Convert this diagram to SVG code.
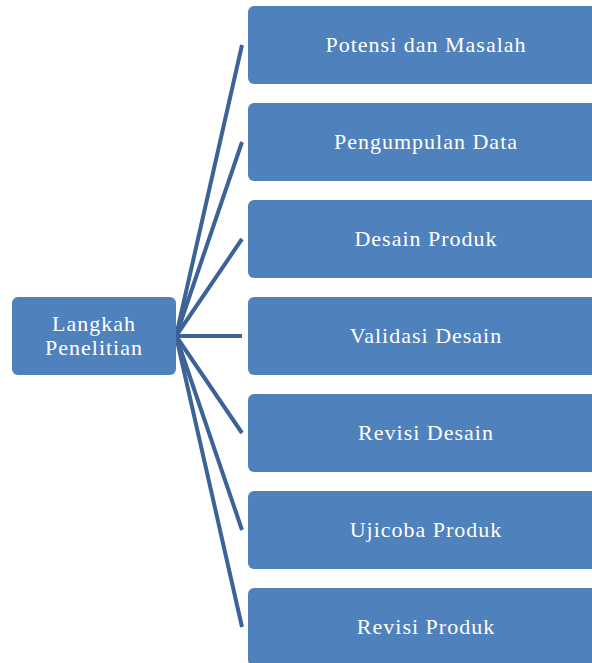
<svg xmlns="http://www.w3.org/2000/svg" width="592" height="663" viewBox="0 0 592 663">
<style>
.box{fill:#4f81bd;}
.t{font-family:"Liberation Serif","Times New Roman",serif;font-size:22px;letter-spacing:1px;fill:#ffffff;text-anchor:middle;}
.c{stroke:#3c6395;stroke-width:4;fill:none;stroke-linecap:butt;}
</style>
<rect width="592" height="663" fill="#ffffff"/>
<g id="connectors">
<line class="c" x1="176" y1="336" x2="242" y2="45"/>
<line class="c" x1="176" y1="336" x2="242" y2="142"/>
<line class="c" x1="176" y1="336" x2="242" y2="239"/>
<line class="c" x1="176" y1="336" x2="242" y2="336"/>
<line class="c" x1="176" y1="336" x2="242" y2="433"/>
<line class="c" x1="176" y1="336" x2="242" y2="530"/>
<line class="c" x1="176" y1="336" x2="242" y2="627"/>
</g>
<g id="root">
<rect class="box" x="12" y="297" width="164" height="78" rx="6"/>
<text class="t" x="94" y="331">Langkah</text>
<text class="t" x="94" y="355">Penelitian</text>
</g>
<g id="n1"><rect class="box" x="248" y="6" width="360" height="78" rx="6"/><text class="t" x="426" y="52">Potensi dan Masalah</text></g>
<g id="n2"><rect class="box" x="248" y="103" width="360" height="78" rx="6"/><text class="t" x="426" y="149">Pengumpulan Data</text></g>
<g id="n3"><rect class="box" x="248" y="200" width="360" height="78" rx="6"/><text class="t" x="426" y="246">Desain Produk</text></g>
<g id="n4"><rect class="box" x="248" y="297" width="360" height="78" rx="6"/><text class="t" x="426" y="343">Validasi Desain</text></g>
<g id="n5"><rect class="box" x="248" y="394" width="360" height="78" rx="6"/><text class="t" x="426" y="440">Revisi Desain</text></g>
<g id="n6"><rect class="box" x="248" y="491" width="360" height="78" rx="6"/><text class="t" x="426" y="537">Ujicoba Produk</text></g>
<g id="n7"><rect class="box" x="248" y="588" width="360" height="78" rx="6"/><text class="t" x="426" y="634">Revisi Produk</text></g>
</svg>
